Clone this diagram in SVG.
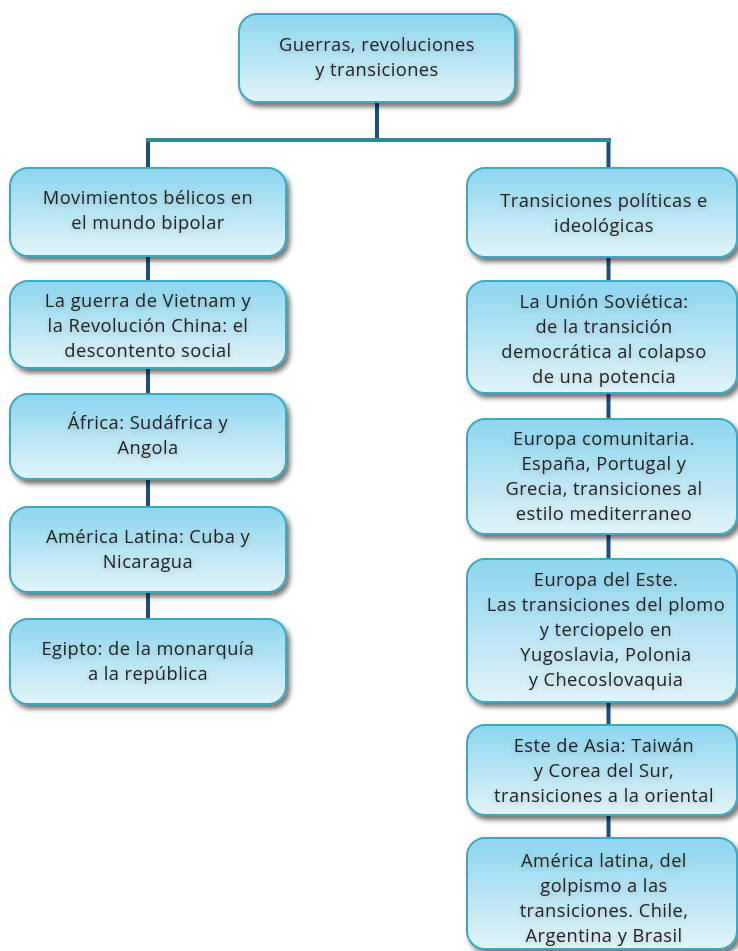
<svg xmlns="http://www.w3.org/2000/svg" width="738" height="951" viewBox="0 0 738 951">
<defs>
<linearGradient id="g" x1="0" y1="0" x2="0" y2="1">
<stop offset="0" stop-color="#8dd5ee"/>
<stop offset="1" stop-color="#e2f4fa"/>
</linearGradient>
<filter id="sh" x="-10%" y="-10%" width="125%" height="135%">
<feGaussianBlur in="SourceAlpha" stdDeviation="2.5"/>
<feOffset dx="3" dy="4" result="b"/>
<feComponentTransfer><feFuncA type="linear" slope="0.55"/></feComponentTransfer>
<feMerge><feMergeNode/><feMergeNode in="SourceGraphic"/></feMerge>
</filter>
<filter id="tg" x="-10%" y="-40%" width="120%" height="180%">
<feGaussianBlur in="SourceAlpha" stdDeviation="3"/>
<feOffset dx="0" dy="2"/>
<feComponentTransfer><feFuncA type="linear" slope="0.18"/></feComponentTransfer>
<feMerge><feMergeNode/><feMergeNode in="SourceGraphic"/></feMerge>
</filter>
</defs>
<style>
.box{fill:url(#g);stroke:#3aa9c3;stroke-width:2;filter:url(#sh)}
text{font-family:"Open Sans","Liberation Sans",sans-serif;font-size:18.3px;letter-spacing:0.45px;fill:#222;text-anchor:middle;filter:url(#tg)}
.v{stroke:#1c4f80;stroke-width:4;fill:none}
.h{stroke:#2e8a99;stroke-width:4;fill:none}
</style>
<g id="connectors">
<line class="v" x1="377" y1="100" x2="377" y2="139"/>
<line class="h" x1="146" y1="140" x2="611" y2="140"/>
<line class="v" x1="148" y1="142" x2="148" y2="625"/>
<line class="v" x1="608.5" y1="142" x2="608.5" y2="845"/>
</g>
<g id="n0"><rect class="box" x="239" y="14" width="276" height="88" rx="18"/><text x="377" y="51">Guerras, revoluciones</text><text x="377" y="76">y transiciones</text></g>
<g id="n1"><rect class="box" x="10" y="168" width="276" height="88" rx="18"/><text x="148" y="204">Movimientos bélicos en</text><text x="148" y="229">el mundo bipolar</text></g>
<g id="n2"><rect class="box" x="10" y="281" width="276" height="87" rx="18"/><text x="148" y="307">La guerra de Vietnam y</text><text x="148" y="332">la Revolución China: el</text><text x="148" y="357">descontento social</text></g>
<g id="n3"><rect class="box" x="10" y="394" width="276" height="85" rx="18"/><text x="148" y="429">África: Sudáfrica y</text><text x="148" y="454">Angola</text></g>
<g id="n4"><rect class="box" x="10" y="507" width="276" height="85" rx="18"/><text x="148" y="543">América Latina: Cuba y</text><text x="148" y="568">Nicaragua</text></g>
<g id="n5"><rect class="box" x="10" y="619" width="276" height="85" rx="18"/><text x="148" y="655">Egipto: de la monarquía</text><text x="148" y="680">a la república</text></g>
<g id="n6"><rect class="box" x="467" y="168" width="270" height="89" rx="18"/><text x="604" y="207">Transiciones políticas e</text><text x="604" y="232">ideológicas</text></g>
<g id="n7"><rect class="box" x="467" y="281" width="270" height="112" rx="18"/><text x="604" y="308">La Unión Soviética:</text><text x="604" y="333">de la transición</text><text x="604" y="358">democrática al colapso</text><text x="604" y="383">de una potencia</text></g>
<g id="n8"><rect class="box" x="467" y="419" width="270" height="115" rx="18"/><text x="604" y="445">Europa comunitaria.</text><text x="604" y="470">España, Portugal y</text><text x="604" y="495">Grecia, transiciones al</text><text x="604" y="520">estilo mediterraneo</text></g>
<g id="n9"><rect class="box" x="467" y="559" width="270" height="143" rx="18"/><text x="606" y="586">Europa del Este.</text><text x="606" y="611">Las transiciones del plomo</text><text x="606" y="636">y terciopelo en</text><text x="606" y="661">Yugoslavia, Polonia</text><text x="606" y="686">y Checoslovaquia</text></g>
<g id="n10"><rect class="box" x="467" y="725" width="270" height="90" rx="18"/><text x="604" y="752">Este de Asia: Taiwán</text><text x="604" y="777">y Corea del Sur,</text><text x="604" y="802">transiciones a la oriental</text></g>
<g id="n11"><rect class="box" x="467" y="838" width="270" height="111" rx="18"/><text x="604" y="867">América latina, del</text><text x="604" y="892">golpismo a las</text><text x="604" y="917">transiciones. Chile,</text><text x="604" y="942">Argentina y Brasil</text></g>
</svg>
